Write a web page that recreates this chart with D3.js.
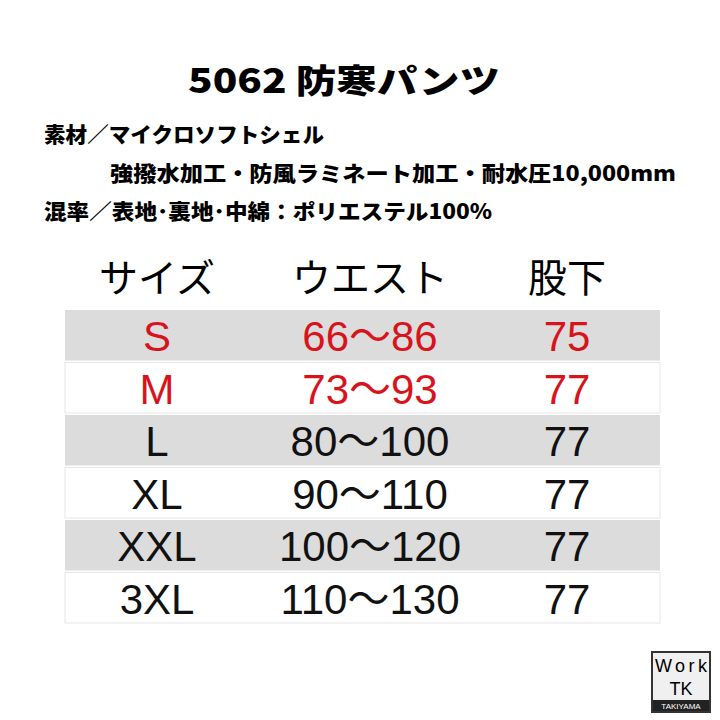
<!DOCTYPE html><html><head><meta charset="utf-8"><script src="https://cdn.jsdelivr.net/npm/d3@7"></script>
<style>body{margin:0;background:#fff}</style></head><body><svg id="c" width="720" height="720"></svg>
<script>
const headers=["サイズ","ウエスト","股下"];
const sizes=["S","M","L","XL","XXL","3XL"];
const waist=["66～86","73～93","80～100","90～110","100～120","110～130"];
const inseam=["75","77","77","77","77","77"];
const highlight=[true,true,false,false,false,false];
const svg=d3.select("#c");
const F="'Noto Sans CJK JP','Noto Sans',sans-serif";
svg.append("text").attr("x",188).attr("y",93).attr("textLength",312).attr("lengthAdjust","spacingAndGlyphs").attr("font-family",F).attr("font-weight",900).attr("font-size",33).text("5062 防寒パンツ");
const info=[[44,142,280,"素材／マイクロソフトシェル"],[110,181,566,"強撥水加工・防風ラミネート加工・耐水圧10,000mm"],[44,219,448,"混率／表地･裏地･中綿：ポリエステル100%"]];
info.forEach(d=>svg.append("text").attr("x",d[0]).attr("y",d[1]).attr("textLength",d[2]).attr("lengthAdjust","spacingAndGlyphs").attr("font-family",F).attr("font-weight",900).attr("font-size",21).text(d[3]));
const y=d3.scaleBand().domain(sizes).range([310,625]);
const cx=[157,370,567];
svg.selectAll(".bg").data(sizes).join("rect").attr("x",65).attr("width",595).attr("y",d=>y(d)).attr("height",y.bandwidth()-2)
 .attr("fill",(d,i)=>i%2==0?"#dcdcdc":"#fff").attr("stroke",(d,i)=>i%2==0?"none":"#e6e6e6");
headers.forEach((h,i)=>svg.append("text").attr("x",cx[i]).attr("y",292).attr("text-anchor","middle").attr("font-family",F).attr("font-size",39).text(h));
sizes.forEach((s,i)=>{
 const vals=[s,waist[i],inseam[i]];
 vals.forEach((v,j)=>svg.append("text").attr("x",cx[j]).attr("y",y(s)+y.bandwidth()/2+15).attr("text-anchor","middle")
  .attr("font-family","'Liberation Sans',"+F).attr("font-size",42).attr("fill",highlight[i]?"#d7141c":"#111").text(v));
});
const g=svg.append("g");
g.append("rect").attr("x",652).attr("y",652).attr("width",58).attr("height",60).attr("fill","#f0f0f0").attr("stroke","#333").attr("stroke-width",2);
g.append("text").attr("x",681).attr("y",672).attr("text-anchor","middle").attr("font-family","'Liberation Sans'").attr("font-size",18).attr("textLength",52).text("Work");
g.append("text").attr("x",681).attr("y",695).attr("text-anchor","middle").attr("font-family","'Liberation Sans'").attr("font-size",18).text("TK");
g.append("rect").attr("x",653).attr("y",700).attr("width",56).attr("height",11).attr("fill","#222");
g.append("text").attr("x",681).attr("y",709).attr("text-anchor","middle").attr("font-family","'Liberation Sans'").attr("font-size",8).attr("fill","#fff").text("TAKIYAMA");
</script></body></html>
